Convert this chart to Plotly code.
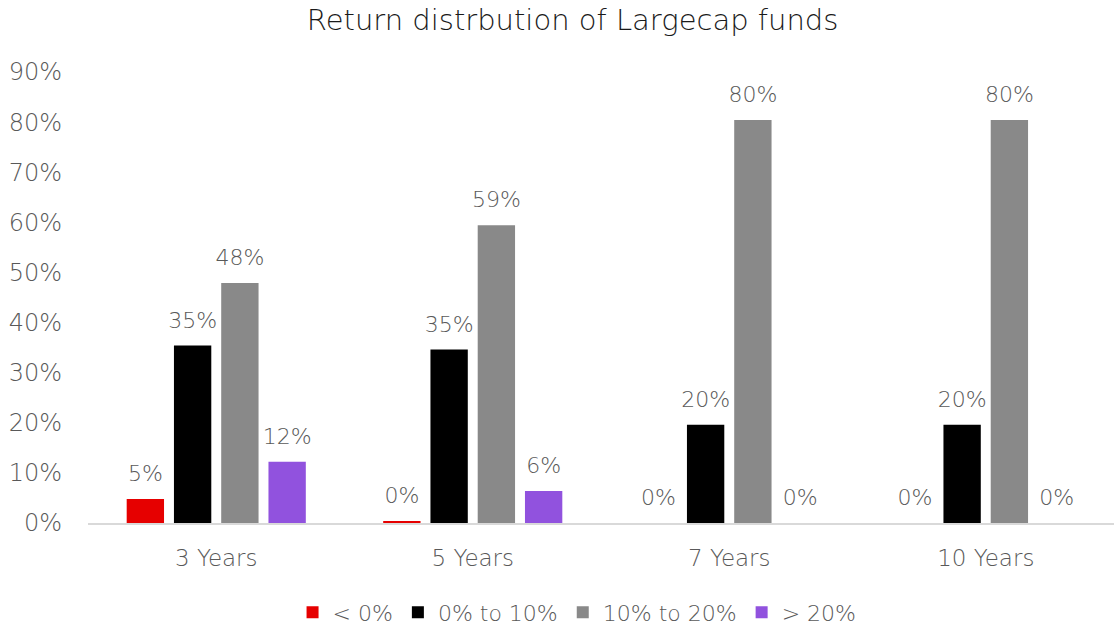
import plotly.graph_objects as go

categories = ['3 Years', '5 Years', '7 Years', '10 Years']
series_names = ['< 0%', '0% to 10%', '10% to 20%', '> 20%']
below_0 = [0.048, 0.003, 0.0, 0.0]
from_0_to_10 = [0.354, 0.346, 0.196, 0.196]
from_10_to_20 = [0.479, 0.594, 0.804, 0.804]
above_20 = [0.122, 0.064, 0.0, 0.0]
colors = ['#e60000', '#000000', '#898989', '#9152de']

FONT = 'DejaVu Sans'
GREY = '#595959'

fig = go.Figure()
for name, vals, col in zip(series_names, [below_0, from_0_to_10, from_10_to_20, above_20], colors):
    fig.add_trace(go.Bar(
        x=categories, y=vals, name=name, marker_color=col,
        marker_line_width=0,
        # small second line lifts the label a little above the bar
        texttemplate='<span style="font-size:22px">%{y:.0%}</span><br><span style="font-size:10px"> </span>',
        textposition='outside', cliponaxis=False, constraintext='none',
        textfont=dict(family=FONT, size=10, color=GREY, weight=300),
    ))

fig.update_layout(
    width=1114, height=625,
    paper_bgcolor='white', plot_bgcolor='white',
    margin=dict(l=88, r=0, t=72, b=102),
    barmode='group', bargap=0.263, bargroupgap=0.21,
    title=dict(text='Return distrbution of Largecap funds', x=0.514, xanchor='center',
               y=0.968, yanchor='middle',
               font=dict(family=FONT, size=29, color='#1a1a1a', weight=300)),
    font=dict(family=FONT, color=GREY, weight=300),
    legend=dict(orientation='h', xref='container', x=0.518, xanchor='center',
                yref='container', y=0.02, yanchor='middle',
                font=dict(family=FONT, size=22, color=GREY, weight=300), traceorder='normal',
                itemwidth=30),
)
fig.update_yaxes(range=[0, 0.9], dtick=0.1, tickformat='.0%', showgrid=False,
                 zeroline=False, showline=False, ticks='',
                 tickfont=dict(family=FONT, size=24, color=GREY, weight=300), ticklabelstandoff=25)
fig.update_xaxes(showline=True, linecolor='#d9d9d9', linewidth=2, ticks='',
                 tickfont=dict(family=FONT, size=23, color=GREY, weight=300), ticklabelstandoff=13)

fig.write_html('out.html', config={'displayModeBar': False},
               post_script="document.body.style.margin='0';document.body.style.overflow='hidden';")
